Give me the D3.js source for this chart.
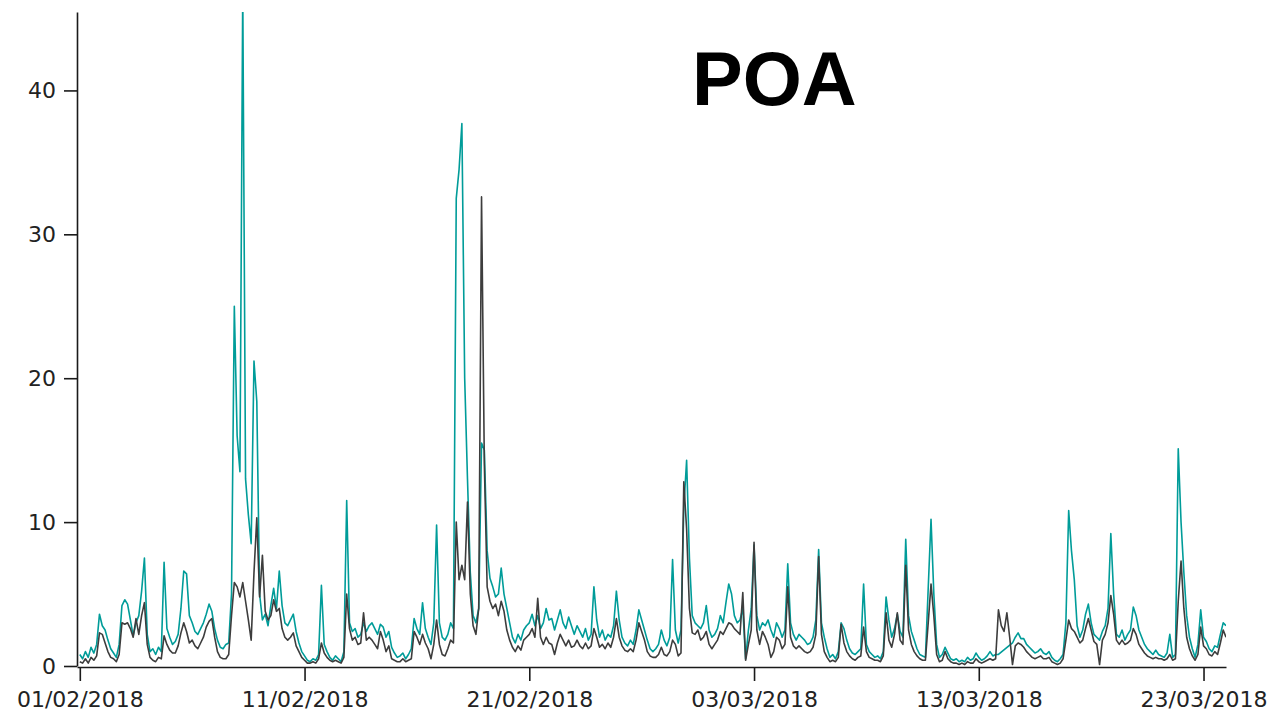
<!DOCTYPE html>
<html>
<head>
<meta charset="utf-8">
<script src="https://cdn.jsdelivr.net/npm/d3@7"></script>
<style>
  body { margin: 0; background: #fff; }
  .axis path, .axis line { stroke: #1a1a1a; stroke-width: 1.6px; }
  .axis text { font-family: "DejaVu Sans", sans-serif; font-size: 22px; fill: #222; }
</style>
</head>
<body>
<div id="chart"></div>
<script>
// 3-hourly readings, one row per day starting 01/02/2018 00:00 (UTC)
let startDate = Date.UTC(2018, 1, 1)
let stepHours = 3

let tealSeries = [
  0.8, 0.5, 1.0, 0.6, 1.3, 0.9, 1.5, 3.6,
  2.8, 2.5, 1.8, 1.2, 0.9, 0.6, 1.5, 4.2,
  4.6, 4.3, 3.2, 2.1, 3.0, 3.5, 5.2, 7.5,
  2.2, 1.0, 1.2, 0.8, 1.3, 1.0, 7.2, 2.6,
  2.0, 1.5, 1.7, 2.2, 4.0, 6.6, 6.4, 3.5,
  3.0, 2.4, 2.2, 2.6, 3.0, 3.6, 4.3, 3.8,
  2.6, 1.8, 1.3, 1.2, 1.5, 1.6, 5.0, 25.0,
  16.0, 13.5, 47.0, 13.0, 10.5, 8.5, 21.2, 18.4,
  5.0, 3.2, 3.6, 2.8, 4.2, 5.4, 4.0, 6.6,
  4.2, 3.0, 2.8, 3.2, 3.6, 2.4, 1.6, 1.0,
  0.7, 0.4, 0.3, 0.5, 0.4, 0.8, 5.6, 1.5,
  1.0, 0.6, 0.4, 0.7, 0.5, 0.3, 1.0, 11.5,
  3.0, 2.4, 2.6, 2.0, 2.2, 3.0, 2.4, 2.8,
  3.0, 2.6, 2.2, 2.9, 2.7, 2.0, 2.4, 1.3,
  0.9, 0.6, 0.7, 0.9, 0.5, 0.8, 1.2, 3.3,
  2.6, 2.2, 4.4, 2.6, 2.0, 1.5, 3.0, 9.8,
  3.0, 2.0, 1.8, 2.2, 3.0, 2.6, 32.5, 34.5,
  37.7, 20.0, 13.0, 6.5, 3.5, 3.0, 4.0, 15.5,
  15.0, 8.0, 6.1, 5.5, 4.8, 5.0, 6.8, 5.0,
  4.0, 3.0, 2.0, 1.6, 2.2, 1.8, 2.5, 2.8,
  3.0, 3.6, 2.8, 3.5, 2.6, 3.0, 4.0, 3.2,
  3.3, 2.5, 3.2, 3.9, 3.0, 2.6, 3.4, 2.8,
  2.2, 2.8, 2.4, 2.0, 2.6, 1.8, 2.2, 5.5,
  3.2, 2.0, 2.5, 1.8, 2.2, 2.0, 2.8, 5.2,
  3.2, 2.0, 1.6, 1.4, 1.8, 1.5, 2.5, 3.9,
  3.2, 2.5, 1.8, 1.2, 1.0, 1.2, 1.5, 2.5,
  1.8, 1.4, 2.0, 7.4, 2.5, 1.6, 2.5, 11.0,
  14.3, 7.5, 3.5, 3.0, 2.8, 2.6, 3.0, 4.2,
  2.5, 2.0, 2.2, 2.6, 3.5, 3.0, 4.4, 5.7,
  5.0, 3.5, 3.0, 3.2, 4.0, 0.5, 2.5, 4.0,
  8.4, 3.5, 2.5, 3.0, 2.8, 3.2, 2.5, 2.0,
  3.0, 2.6, 2.0, 2.5, 7.1, 3.0, 2.2, 1.8,
  2.2, 2.0, 1.8, 1.5, 1.6, 2.0, 3.2, 8.1,
  3.0, 2.0, 1.2, 0.6, 0.8, 0.5, 1.0, 3.0,
  2.6, 1.8, 1.2, 0.9, 0.8, 1.0, 1.2, 5.7,
  1.5, 1.0, 0.8, 0.6, 0.7, 0.5, 1.0, 4.8,
  3.2, 2.0, 2.6, 3.6, 2.4, 2.0, 8.8, 3.5,
  2.4, 1.8, 1.2, 0.8, 0.7, 0.6, 5.4, 10.2,
  5.0, 1.5, 0.6, 0.8, 1.3, 0.9, 0.5, 0.4,
  0.5, 0.3, 0.4, 0.3, 0.6, 0.4, 0.5, 0.9,
  0.6, 0.4, 0.5, 0.7, 1.0, 0.7, 0.8, 0.8,
  null, null, null, null, 1.6, 2.0, 2.3, 1.9,
  1.9, 1.5, 1.3, 1.1, 0.9, 1.0, 1.2, 0.9,
  0.8, 1.0, 0.6, 0.4, 0.3, 0.5, 0.8, 3.0,
  10.8, 8.0, 6.0, 2.8, 2.0, 2.5, 3.6, 4.3,
  3.0, 2.2, 2.0, 1.8, 2.4, 2.8, 4.0, 9.2,
  5.0, 2.2, 2.0, 2.5, 1.8, 2.2, 2.5, 4.1,
  3.5, 2.5, 2.0, 1.5, 1.2, 1.0, 0.8, 1.1,
  0.8, 0.7, 0.6, 0.9, 2.2, 0.6, 0.8, 15.1,
  10.0, 6.5, 3.5, 2.0, 1.2, 0.6, 1.5, 3.9,
  2.0, 1.7, 1.2, 1.0, 1.4, 1.3, 2.2, 3.0,
  2.8
]

let greySeries = [
  0.3, 0.2, 0.5, 0.2, 0.6, 0.4, 0.7, 2.3,
  2.2, 1.6, 1.0, 0.6, 0.5, 0.3, 0.8, 3.0,
  2.9, 3.0, 2.6, 2.0, 3.3, 2.2, 3.5, 4.4,
  1.5, 0.6, 0.4, 0.3, 0.6, 0.5, 2.1, 1.5,
  1.1, 0.9, 0.9, 1.4, 2.3, 3.0, 2.4, 1.6,
  1.8, 1.4, 1.2, 1.6, 2.0, 2.7, 3.1, 3.3,
  2.0, 1.0, 0.6, 0.5, 0.5, 0.8, 3.5, 5.8,
  5.5, 4.8, 5.8, 4.5, 3.2, 1.8, 6.5, 10.3,
  4.8, 7.7, 3.8, 3.2, 3.5, 4.6, 3.8, 4.0,
  2.6, 2.0, 1.8, 2.0, 2.3, 1.4, 1.0, 0.6,
  0.4, 0.2, 0.2, 0.3, 0.2, 0.5, 1.6, 0.9,
  0.6, 0.4, 0.3, 0.4, 0.3, 0.2, 0.6, 5.0,
  2.6, 1.8, 2.0, 1.5, 1.6, 3.7, 1.8, 2.0,
  1.8, 1.5, 1.2, 2.4, 1.8, 1.0, 1.4, 0.5,
  0.4, 0.3, 0.3, 0.5, 0.3, 0.4, 0.5, 2.4,
  2.0, 1.5, 2.2, 1.6, 1.2, 0.5, 1.5, 3.2,
  1.5, 0.8, 0.7, 1.2, 1.8, 1.6, 10.0, 6.0,
  7.0, 6.0, 11.4, 5.0, 2.8, 2.2, 4.0, 32.6,
  14.0, 5.5, 4.5, 4.0, 4.3, 3.5, 4.5, 3.8,
  2.5, 1.8, 1.3, 1.0, 1.4, 1.1, 1.8, 2.0,
  2.2, 2.6, 2.0, 4.7, 2.0, 1.5, 2.0, 1.6,
  1.5, 0.8, 1.6, 2.2, 1.8, 1.4, 1.8, 1.3,
  1.4, 1.8, 1.4, 1.2, 1.6, 1.2, 1.4, 2.6,
  2.0, 1.3, 1.5, 1.2, 1.6, 1.3, 2.0, 3.3,
  2.0, 1.4, 1.1, 1.0, 1.2, 1.0, 1.8, 3.0,
  2.4, 1.8, 1.0, 0.7, 0.6, 0.6, 0.8, 1.3,
  0.8, 0.7, 1.0, 1.8, 1.5, 0.7, 0.9, 12.8,
  9.5, 4.0, 2.3, 2.2, 2.5, 1.8, 2.0, 2.4,
  1.5, 1.2, 1.5, 1.8, 2.4, 2.2, 2.6, 3.0,
  2.9, 2.6, 2.4, 2.2, 5.1, 0.4, 1.5, 2.5,
  8.6, 2.5, 1.5, 2.4, 2.0, 1.5, 0.6, 1.0,
  2.0, 1.8, 1.2, 1.5, 5.5, 2.0, 1.4, 1.2,
  1.4, 1.2, 1.0, 0.9, 1.0, 1.3, 2.2, 7.6,
  2.2, 1.0, 0.6, 0.3, 0.4, 0.3, 0.6, 2.9,
  1.6, 1.0, 0.7, 0.5, 0.4, 0.6, 0.7, 2.7,
  1.0, 0.6, 0.5, 0.4, 0.4, 0.3, 0.7, 3.7,
  1.8, 1.3, 2.2, 3.7, 1.8, 1.5, 7.0, 2.5,
  1.5, 1.0, 0.7, 0.5, 0.4, 0.4, 3.0, 5.7,
  3.5, 0.8, 0.3, 0.4, 1.0, 0.5, 0.3, 0.2,
  0.2, 0.1, 0.2, 0.1, 0.3, 0.2, 0.2, 0.5,
  0.3, 0.2, 0.3, 0.4, 0.5, 0.4, 0.5, 3.9,
  2.8, 2.4, 3.7, 2.0, 0.1, 1.4, 1.6, 1.5,
  1.3, 1.0, 0.8, 0.6, 0.5, 0.6, 0.7, 0.5,
  0.5, 0.6, 0.3, 0.2, 0.1, 0.2, 0.5, 1.8,
  3.2, 2.6, 2.4, 2.0, 1.6, 1.8, 2.6, 3.3,
  2.5, 1.7, 1.5, 0.1, 1.8, 2.2, 3.0, 4.9,
  3.6, 1.8, 1.5, 1.8, 1.5, 1.6, 1.8, 2.6,
  2.2, 1.5, 1.2, 0.9, 0.7, 0.6, 0.5, 0.6,
  0.5, 0.5, 0.4, 0.5, 0.8, 0.4, 0.5, 4.5,
  7.3, 4.0, 2.0, 1.2, 0.7, 0.4, 0.8, 2.7,
  1.4, 1.2, 0.8, 0.7, 1.0, 0.8, 1.6, 2.5,
  2.0
]

let yTicks = [0, 10, 20, 30, 40]
let xTickDates = ["01/02/2018", "11/02/2018", "21/02/2018", "03/03/2018", "13/03/2018", "23/03/2018"]
let title = "POA"

let width = 1276, height = 719
let margin = { top: 12, right: 50, bottom: 52, left: 77 }

let parseDay = d3.utcParse("%d/%m/%Y")
let formatDay = d3.utcFormat("%d/%m/%Y")

function toPoints(values) {
    return values
        .map(function (v, i) {
            return { t: d3.utcHour.offset(new Date(startDate), i * stepHours), v: v }
        })
        .filter(function (d) { return d.v !== null })   // gaps are bridged by a straight segment
}
let tealData = toPoints(tealSeries)
let greyData = toPoints(greySeries)

let svg = d3.select("#chart")
    .append("svg")
    .attr("width", width)
    .attr("height", height)

// x starts a few hours before the first reading, like the original
let x = d3.scaleUtc()
    .domain([d3.utcHour.offset(new Date(startDate), -3), d3.utcDay.offset(new Date(startDate), 51)])
    .range([margin.left, width - margin.right])

let y = d3.scaleLinear()
    .domain([0, 45.45])
    .range([height - margin.bottom - 1, margin.top])

svg.append("defs").append("clipPath")
    .attr("id", "plotClip")
    .append("rect")
    .attr("x", margin.left)
    .attr("y", margin.top)
    .attr("width", width - margin.right - margin.left)
    .attr("height", height - margin.bottom - margin.top)

let line = d3.line()
    .x(function (d) { return x(d.t) })
    .y(function (d) { return y(d.v) })

let plot = svg.append("g").attr("clip-path", "url(#plotClip)")

plot.append("path")
    .datum(tealData)
    .attr("d", line)
    .attr("fill", "none")
    .attr("stroke", "#009c99")
    .attr("stroke-width", 1.6)
    .attr("stroke-linejoin", "round")

plot.append("path")
    .datum(greyData)
    .attr("d", line)
    .attr("fill", "none")
    .attr("stroke", "#3d3d3d")
    .attr("stroke-width", 1.6)
    .attr("stroke-linejoin", "round")

// axes
svg.append("g")
    .attr("class", "axis")
    .attr("transform", "translate(0," + (height - margin.bottom) + ")")
    .call(d3.axisBottom(x)
        .tickValues(xTickDates.map(parseDay))
        .tickFormat(formatDay)
        .tickSize(14)
        .tickSizeOuter(0)
        .tickPadding(10))

svg.append("g")
    .attr("class", "axis")
    .attr("transform", "translate(" + margin.left + ",0)")
    .call(d3.axisLeft(y)
        .tickValues(yTicks)
        .tickSize(13)
        .tickSizeOuter(0)
        .tickPadding(8))

svg.append("text")
    .attr("x", 692)
    .attr("y", 105)
    .style("font-family", "'Liberation Sans', Arial, sans-serif")
    .style("font-weight", "bold")
    .style("font-size", "76px")
    .style("fill", "#000")
    .text(title)
</script>
</body>
</html>
